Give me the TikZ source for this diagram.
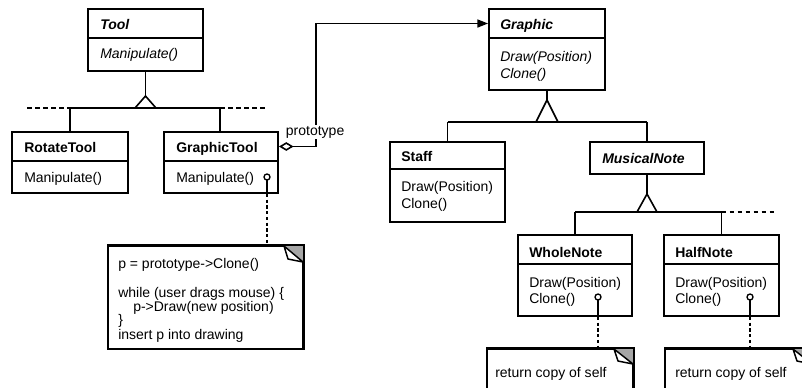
\documentclass[tikz,border=0pt]{standalone}
\usepackage{fontspec}
\setmainfont{Liberation Sans}
\usetikzlibrary{arrows.meta,fit}
\begin{document}
\begin{tikzpicture}[x=0.75pt,y=-0.75pt,
  box/.style={draw, line width=1.4pt, inner sep=0pt},
  txt/.style={anchor=base west, inner sep=0pt, font=\fontsize{10.5}{12}\selectfont},
  cname/.style={txt, font=\fontsize{10.5}{12}\selectfont\bfseries},
  conn/.style={line width=1.2pt},
  dashline/.style={line width=1.6pt, dash pattern=on 3.5pt off 2.5pt},
  dotline/.style={line width=1.6pt, dash pattern=on 2.5pt off 1.8pt},
  tri/.style={line width=1.2pt, fill=white, line join=miter},
  notebox/.style={draw, line width=1.4pt, inner sep=0pt},
  hole/.style={line width=1pt, fill=white}]
\useasboundingbox (0,0) rectangle (802,387);
\clip (0,0) rectangle (802,387);

% ---------- Tool ----------
\node[box, fit={(88,9)(203,38)}] (tool) {};
\node[box, fit={(88,38)(203,71)}] (toolm) {};
\node[cname] (toolN) at (100,29) {\itshape Tool};
\node[txt] (toolM) at (100,58) {\itshape Manipulate()};

% ---------- RotateTool ----------
\node[box, fit={(12,132)(128,161)}] (rot) {};
\node[box, fit={(12,161)(128,193)}] (rotm) {};
\node[cname] (rotN) at (24,152) {RotateTool};
\node[txt] (rotM) at (24,182) {Manipulate()};

% ---------- GraphicTool ----------
\node[box, fit={(164,132)(278,161)}] (gtool) {};
\node[box, fit={(164,161)(278,193)}] (gtoolm) {};
\node[cname] (gtoolN) at (176,152) {GraphicTool};
\node[txt] (gtoolM) at (176,182) {Manipulate()};

% ---------- Tool hierarchy ----------
\coordinate (ta) at (145.5,96);
\coordinate (tl) at (135,108);
\coordinate (tr) at (156,108);
\coordinate (tbl) at (70,108);
\coordinate (tbr) at (220,108);
\draw[conn] (toolm.south) -- (ta);
\draw[conn] (tbl) -- (tbr);
\draw[conn] (tbl) -- (tbl |- rot.north);
\draw[conn] (tbr) -- (tbr |- gtool.north);
\draw[tri] (ta) -- (tl) -- (tr) -- cycle;
\coordinate (tdl) at (27,108);
\coordinate (tdr) at (265,108);
\draw[dashline] (tdl) -- (tbl);
\draw[dashline] (tbr) -- (tdr);

% ---------- Graphic ----------
\node[box, fit={(489,9)(605,38)}] (graphic) {};
\node[box, fit={(489,38)(605,90)}] (graphicm) {};
\node[cname] (graphicN) at (500,29) {\itshape Graphic};
\node[txt] (graphicM1) at (500,61) {\itshape Draw(Position)};
\node[txt] (graphicM2) at (500,78) {\itshape Clone()};

% ---------- prototype association ----------
\draw[conn, {Diamond[open,length=11pt,width=6.5pt]}-{Triangle[length=8pt,width=6pt]}]
  (gtool.east) -- ++(37,0) |- (graphic.west);
\node[txt, fill=white, inner ysep=1pt, inner xsep=0.5pt] (protoL) at (285,135) {prototype};

% ---------- Staff ----------
\node[box, fit={(390,142)(505,169)}] (staff) {};
\node[box, fit={(390,169)(505,222)}] (staffm) {};
\node[cname] (staffN) at (401,161) {Staff};
\node[txt] (staffM1) at (401,191) {Draw(Position)};
\node[txt] (staffM2) at (401,208) {Clone()};

% ---------- MusicalNote ----------
\node[box, fit={(590,142)(704,174)}] (mnote) {};
\node[cname] (mnoteN) at (602,163) {\itshape MusicalNote};

% ---------- Graphic hierarchy ----------
\coordinate (ga) at (547,100);
\coordinate (gl) at (536,122);
\coordinate (gr) at (558,122);
\coordinate (gbl) at (447.5,122);
\coordinate (gbr) at (647,122);
\draw[conn] (graphicm.south) -- (ga);
\draw[conn] (gbl) -- (gbr);
\draw[conn] (gbl) -- (staff.north);
\draw[conn] (gbr) -- (mnote.north);
\draw[tri] (ga) -- (gl) -- (gr) -- cycle;

% ---------- WholeNote ----------
\node[box, fit={(518,235)(632,264)}] (whole) {};
\node[box, fit={(518,264)(632,316)}] (wholem) {};
\node[cname] (wholeN) at (529,257) {WholeNote};
\node[txt] (wholeM1) at (529,287) {Draw(Position)};
\node[txt] (wholeM2) at (529,303) {Clone()};

% ---------- HalfNote ----------
\node[box, fit={(664,235)(779,264)}] (half) {};
\node[box, fit={(664,264)(779,316)}] (halfm) {};
\node[cname] (halfN) at (675,257) {HalfNote};
\node[txt] (halfM1) at (675,287) {Draw(Position)};
\node[txt] (halfM2) at (675,303) {Clone()};

% ---------- MusicalNote hierarchy ----------
\coordinate (ma) at (647,194);
\coordinate (ml) at (637,212);
\coordinate (mr) at (657,212);
\coordinate (mbl) at (575,212);
\coordinate (mbr) at (721.5,212);
\coordinate (mdr) at (775,212);
\draw[conn] (mnote.south) -- (ma);
\draw[conn] (mbl) -- (mbr);
\draw[conn] (mbl) -- (whole.north);
\draw[conn] (mbr) -- (half.north);
\draw[tri] (ma) -- (ml) -- (mr) -- cycle;
\draw[dashline] (mbr) -- (mdr);

% ---------- Note 1 ----------
\node[notebox, fit={(108,246)(303,349)}] (note1) {};
\fill[gray!70] (284,246) -- (303,246) -- (303,262) -- cycle;
\draw[line width=1.1pt, fill=white, line join=round] (284,246) -- (288,259) -- (303,262) -- cycle;
\draw[line width=1.4pt] (note1.north west) -- (note1.north east) -- (note1.south east);
\node[txt] (n1a) at (118,268) {p = prototype->Clone()};
\node[txt] (n1b) at (118,297) {while (user drags mouse) \{};
\node[txt] (n1c) at (133,311) {p->Draw(new position)};
\node[txt] (n1d) at (118,324) {\}};
\node[txt] (n1e) at (118,339) {insert p into drawing};

\coordinate (c1) at (267,177);
\draw[conn] (c1) ++(0,3) -- (c1 |- gtoolm.south);
\draw[dotline] (c1 |- gtoolm.south) -- (c1 |- note1.north);
\draw[hole] (c1) circle[radius=3];

% ---------- Note 2 ----------
\node[notebox, fit={(487,349)(633,400)}] (note2) {};
\fill[gray!70] (614,349) -- (633,349) -- (633,364) -- cycle;
\draw[line width=1.1pt, fill=white, line join=round] (614,349) -- (618,361) -- (633,364) -- cycle;
\draw[line width=1.4pt] (note2.north west) -- (note2.north east) -- (note2.south east);
\node[txt] (n2) at (495,377) {return copy of self};

\coordinate (c2) at (598,297);
\draw[conn] (c2) ++(0,3) -- (c2 |- wholem.south);
\draw[dotline] (c2 |- wholem.south) -- (c2 |- note2.north);
\draw[hole] (c2) circle[radius=3];

% ---------- Note 3 ----------
\node[notebox, fit={(665,349)(812,400)}] (note3) {};
\fill[gray!70] (793,349) -- (812,349) -- (812,364) -- cycle;
\draw[line width=1.1pt, fill=white, line join=round] (793,349) -- (797,361) -- (812,364) -- cycle;
\draw[line width=1.4pt] (note3.north west) -- (note3.north east);
\node[txt] (n3) at (675,377) {return copy of self};

\coordinate (c3) at (750,297);
\draw[conn] (c3) ++(0,3) -- (c3 |- halfm.south);
\draw[dotline] (c3 |- halfm.south) -- (c3 |- note3.north);
\draw[hole] (c3) circle[radius=3];
\end{tikzpicture}
\end{document}
